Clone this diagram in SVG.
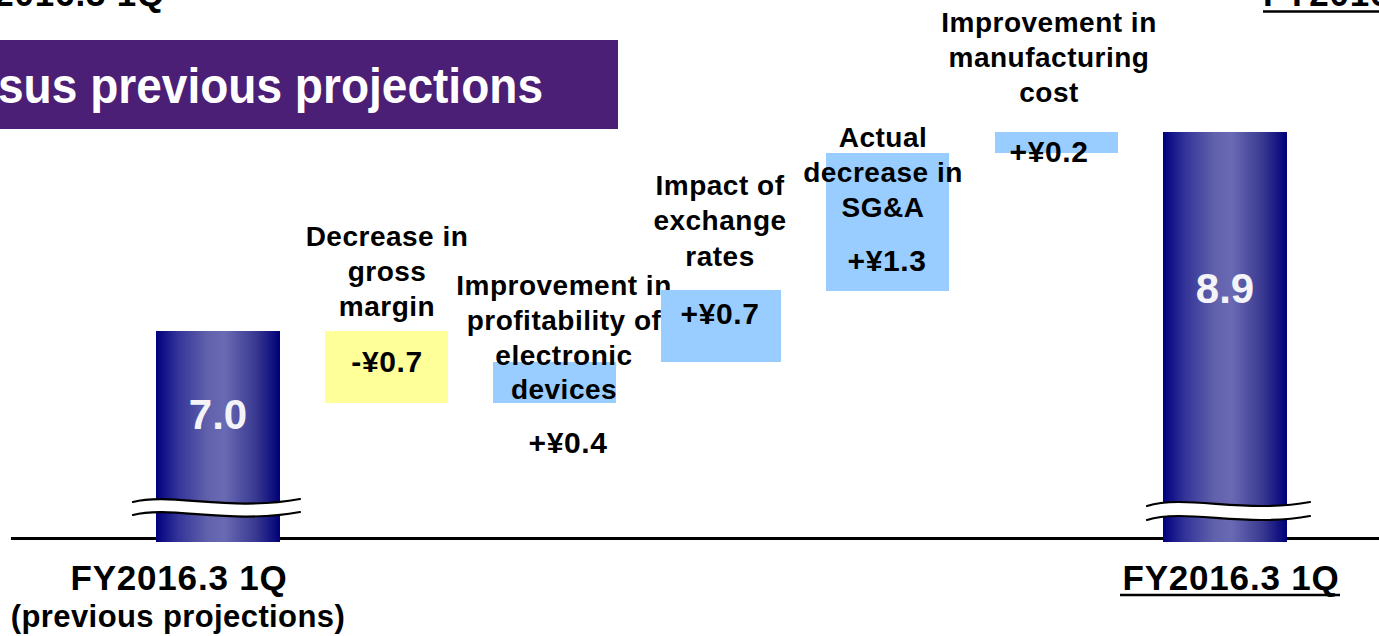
<svg xmlns="http://www.w3.org/2000/svg" width="1379" height="636" viewBox="0 0 1379 636">
  <defs>
    <linearGradient id="barGrad" x1="0" y1="0" x2="1" y2="0">
      <stop offset="0" stop-color="#00007e"/>
      <stop offset="0.18" stop-color="#34349a"/>
      <stop offset="0.42" stop-color="#6262ac"/>
      <stop offset="0.55" stop-color="#6a6ab4"/>
      <stop offset="0.8" stop-color="#3a3a92"/>
      <stop offset="1" stop-color="#000078"/>
    </linearGradient>
    <style>
      text { font-family: "Liberation Sans", Arial, sans-serif; font-weight: bold; fill: #000; }
      .lbl { font-size: 28px; letter-spacing: 0.5px; text-anchor: middle; }
      .val { font-size: 30px; letter-spacing: 0.6px; text-anchor: middle; }
      .big { font-size: 42px; fill: #f4f4f8; text-anchor: middle; }
      .axislbl { font-size: 35px; letter-spacing: 0.8px; }
      .blue { fill: #99ccff; }
      .yellow { fill: #ffff99; }
      .wave { fill: none; stroke: #000; stroke-width: 2.2; stroke-linecap: round; }
    </style>
  </defs>

  <rect width="1379" height="636" fill="#ffffff"/>

  <!-- header texts, cut off by the top edge as in the picture -->
  <g id="header">
    <text class="axislbl" x="165" y="6" text-anchor="end">FY2016.3 1Q</text>
    <text class="axislbl" x="1263" y="6">FY2016.3 1Q</text>
    <line x1="1263" y1="11.5" x2="1379" y2="11.5" stroke="#000" stroke-width="2.5"/>
  </g>

  <!-- title banner -->
  <g id="title">
    <rect x="0" y="40" width="618" height="89" fill="#4b1f76"/>
    <text x="-2" y="103" font-size="50" style="fill:#ffffff" textLength="545" lengthAdjust="spacingAndGlyphs">sus previous projections</text>
  </g>

  <!-- axis -->
  <g id="connectors">
    <line x1="11" y1="538.5" x2="1379" y2="538.5" stroke="#000" stroke-width="3"/>
  </g>

  <!-- left bar -->
  <g id="bar-previous">
    <rect x="156" y="331" width="124" height="211" fill="url(#barGrad)"/>
    <text class="big" x="218" y="429">7.0</text>
    <path d="M133,502 C170,492 230,512 300,499 L300,512 C230,525 170,505 133,515 Z" fill="#ffffff"/>
    <path class="wave" d="M133,502 C170,492 230,512 300,499"/>
    <path class="wave" d="M133,515 C170,505 230,525 300,512"/>
  </g>

  <!-- right bar -->
  <g id="bar-actual">
    <rect x="1163" y="132" width="124" height="410" fill="url(#barGrad)"/>
    <text class="big" x="1225" y="303" font-size="41">8.9</text>
    <path d="M1147,506 C1185,494 1245,514 1310,502 L1310,516 C1245,528 1185,508 1147,520 Z" fill="#ffffff"/>
    <path class="wave" d="M1147,506 C1185,494 1245,514 1310,502"/>
    <path class="wave" d="M1147,520 C1185,508 1245,528 1310,516"/>
  </g>

  <!-- gross margin -->
  <g id="step-gross-margin">
    <rect class="yellow" x="325" y="331" width="123" height="72"/>
    <text class="lbl" x="387" y="246">Decrease in</text>
    <text class="lbl" x="387" y="281">gross</text>
    <text class="lbl" x="387" y="316">margin</text>
    <text class="val" x="387" y="372">-¥0.7</text>
  </g>

  <!-- electronic devices -->
  <g id="step-electronic-devices">
    <rect class="blue" x="493" y="362" width="123" height="41"/>
    <text class="lbl" x="564" y="295">Improvement in</text>
    <text class="lbl" x="564" y="330">profitability of</text>
    <text class="lbl" x="564" y="365">electronic</text>
    <text class="lbl" x="564" y="399">devices</text>
    <text class="val" x="568" y="453">+¥0.4</text>
  </g>

  <!-- exchange rates -->
  <g id="step-exchange-rates">
    <rect class="blue" x="661" y="290" width="120" height="72"/>
    <text class="lbl" x="720" y="195">Impact of</text>
    <text class="lbl" x="720" y="230">exchange</text>
    <text class="lbl" x="720" y="266">rates</text>
    <text class="val" x="720" y="324">+¥0.7</text>
  </g>

  <!-- SG&A -->
  <g id="step-sga">
    <rect class="blue" x="826" y="153" width="123" height="138"/>
    <text class="lbl" x="883" y="147">Actual</text>
    <text class="lbl" x="883" y="182">decrease in</text>
    <text class="lbl" x="883" y="217">SG&amp;A</text>
    <text class="val" x="887" y="271">+¥1.3</text>
  </g>

  <!-- manufacturing cost -->
  <g id="step-manufacturing-cost">
    <rect class="blue" x="995" y="132" width="123" height="21"/>
    <text class="lbl" x="1049" y="32">Improvement in</text>
    <text class="lbl" x="1049" y="67">manufacturing</text>
    <text class="lbl" x="1049" y="102">cost</text>
    <text class="val" x="1049" y="162">+¥0.2</text>
  </g>

  <!-- axis labels -->
  <g id="label-previous">
    <text class="axislbl" x="179" y="590" text-anchor="middle">FY2016.3 1Q</text>
    <text x="178" y="627" font-size="31" letter-spacing="0.4" text-anchor="middle">(previous projections)</text>
  </g>
  <g id="label-actual">
    <text class="axislbl" x="1231" y="590" text-anchor="middle">FY2016.3 1Q</text>
    <line x1="1120" y1="595" x2="1340" y2="595" stroke="#000" stroke-width="2.5"/>
  </g>
</svg>
